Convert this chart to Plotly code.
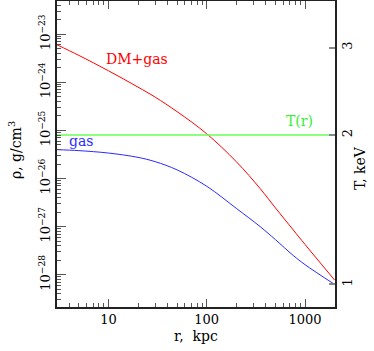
# %%
import plotly.graph_objects as go

# %%
# Density profiles (r in kpc, log10 rho in g/cm^3)
r_kpc = [3, 5, 10, 20, 30, 50, 100, 200, 350, 500, 760, 1000, 2000]
log_rho_total = [-23.22, -23.44, -23.76, -24.10, -24.31, -24.61, -25.07,
                 -25.65, -26.21, -26.61, -27.07, -27.37, -28.11]
log_rho_gas = [-25.40, -25.42, -25.47, -25.56, -25.65, -25.82, -26.16,
               -26.62, -27.00, -27.27, -27.60, -27.79, -28.20]

# Temperature profile (isothermal)
r_T = [3, 2000]
T_keV = [2, 2]

rho_total = [10 ** v for v in log_rho_total]
rho_gas = [10 ** v for v in log_rho_gas]

# tick labels
rho_powers = [-28, -27, -26, -25, -24, -23]
rho_ticktext = ["10<sup>\u2212%d</sup>" % (-p) for p in rho_powers]
r_ticks = [10, 100, 1000]
T_ticks = [1, 2, 3]

FONT = "DejaVu Serif"

# minor ticks
r_minor = [m * 10 ** e for e in range(0, 4) for m in range(2, 10) if 3 <= m * 10 ** e <= 2000]
rho_minor = [m * 10.0 ** e for e in range(-29, -22) for m in range(2, 10)]

# %%
fig = go.Figure()
fig.add_trace(go.Scatter(x=r_kpc, y=rho_total, mode="lines", line_shape="spline",
                         line=dict(color="#ff0000", width=1), showlegend=False))
fig.add_trace(go.Scatter(x=r_kpc, y=rho_gas, mode="lines", line_shape="spline",
                         line=dict(color="#2a2aff", width=1), showlegend=False))
fig.add_trace(go.Scatter(x=r_T, y=T_keV, mode="lines", yaxis="y2",
                         line=dict(color="#66ff55", width=1.5), showlegend=False))

# curve labels
fig.add_annotation(x=1.292, y=-23.51, text="DM+gas", showarrow=False,
                   font=dict(color="#ff0000", size=14, family=FONT))
fig.add_annotation(x=0.722, y=-25.21, text="gas", showarrow=False,
                   font=dict(color="#2a2aff", size=14, family=FONT))
fig.add_annotation(x=2.94, y=-24.80, text="T(r)", showarrow=False,
                   font=dict(color="#33ee33", size=14, family=FONT))

# axis titles, placed by hand
fig.add_annotation(xref="paper", yref="paper", x=-0.151, y=0.513,
                   xanchor="center", yanchor="middle",
                   text="\u03c1, g/cm<sup>3</sup>", textangle=-90, showarrow=False,
                   font=dict(size=14, family=FONT))
fig.add_annotation(xref="paper", yref="paper", x=1.090, y=0.454,
                   xanchor="center", yanchor="middle",
                   text="T, keV", textangle=-90, showarrow=False,
                   font=dict(size=14, family=FONT))
fig.add_annotation(xref="paper", yref="paper", x=0.5, y=-0.095,
                   xanchor="center", yanchor="middle",
                   text="r,\u00a0 kpc", showarrow=False,
                   font=dict(size=14, family=FONT))

fig.update_layout(
    width=374, height=351,
    margin=dict(l=57, r=39, t=1, b=44),
    paper_bgcolor="white", plot_bgcolor="white",
    font=dict(family=FONT, size=13, color="black"),
    xaxis=dict(type="log", range=[0.477, 3.305], showgrid=False, zeroline=False,
               automargin=False,
               showline=True, linecolor="#222", linewidth=1.5, mirror="ticks",
               ticks="inside", ticklen=8, tickcolor="#555", tickwidth=1,
               tickvals=r_ticks, ticktext=[str(v) for v in r_ticks],
               minor=dict(tickvals=r_minor, ticks="inside", ticklen=4,
                          tickcolor="#555", showgrid=False)),
    yaxis=dict(type="log", range=[-28.67, -22.31], showgrid=False, zeroline=False,
               automargin=False,
               showline=True, linecolor="#222", linewidth=1.5, mirror=True,
               ticks="inside", ticklen=9, tickcolor="#555", tickwidth=1,
               tickvals=[10.0 ** p for p in rho_powers], ticktext=rho_ticktext,
               tickangle=-90,
               minor=dict(tickvals=rho_minor, ticks="inside", ticklen=4,
                          tickcolor="#555", showgrid=False)),
    yaxis2=dict(type="log", overlaying="y", side="right",
                range=[-0.0457, 0.571], showgrid=False, zeroline=False,
                automargin=False,
                showline=True, linecolor="#222", linewidth=1.5,
                ticks="inside", ticklen=6, tickcolor="#888", tickwidth=2,
                tickvals=T_ticks, ticktext=[str(v) for v in T_ticks],
                tickangle=-90),
)

# page body has a default 8px margin, drop it so the figure sits at 0,0
fig.write_html("out.html", config={"displayModeBar": False},
               post_script="document.body.style.margin='0';")
